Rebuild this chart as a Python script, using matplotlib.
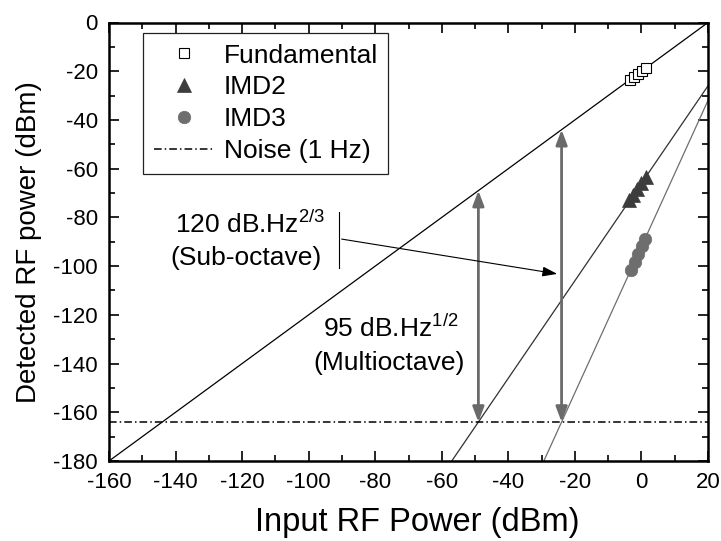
import numpy as np
import matplotlib
matplotlib.use("Agg")
import matplotlib.pyplot as plt
from matplotlib.ticker import MultipleLocator

plt.rcParams["font.family"] = ["Liberation Sans", "DejaVu Sans"]
plt.rcParams["mathtext.fontset"] = "custom"
plt.rcParams["mathtext.rm"] = "Liberation Sans"
plt.rcParams["mathtext.it"] = "Liberation Sans:italic"
plt.rcParams["axes.unicode_minus"] = False

# Measured points (input power dBm -> detected power dBm)
fund_in = [-3.4, -2.2, -1.0, 0.2, 1.4]
fund_out = [-23.6, -22.3, -21.1, -19.9, -18.7]
imd2_in = [-3.6, -2.4, -1.2, 0.0, 1.3]
imd2_out = [-73.0, -70.8, -68.4, -66.0, -63.5]
imd3_in = [-3.1, -2.0, -1.0, 0.1, 1.1]
imd3_out = [-101.5, -98.2, -95.0, -91.8, -89.0]

# Link parameters
noise_floor = -164.0      # dBm in 1 Hz
fund_gain = -20.0         # dB, slope-1 fit offset
sfdr_multi = 95.0         # dB.Hz^1/2 (IMD2 limited)
sfdr_sub = 120.0          # dB.Hz^2/3 (IMD3 limited)

# Fit lines with slopes 1, 2, 3 crossing the noise floor at the SFDR points
x_imd2 = (noise_floor + sfdr_multi) - fund_gain
x_imd3 = (noise_floor + sfdr_sub) - fund_gain
imd2_icpt = noise_floor - 2 * x_imd2
imd3_icpt = noise_floor - 3 * x_imd3

fig = plt.figure(figsize=(7.21, 5.41), dpi=100)
ax = fig.add_axes([109 / 721, 1 - 461 / 541, 599 / 721, 438.5 / 541])

xs = np.array([-160.0, 20.0])
ax.plot(xs, xs + fund_gain, color="black", lw=0.9, zorder=2)
ax.plot(xs, 2 * xs + imd2_icpt, color="#303030", lw=0.9, zorder=2)
ax.plot(xs, 3 * xs + imd3_icpt, color="#6e6e6e", lw=0.9, zorder=2)

h_noise = ax.axhline(noise_floor, color="black", lw=1.1,
                     ls=(0, (5, 2, 1, 2)), zorder=2)

h_fund, = ax.plot(fund_in, fund_out, "s", ms=7, mfc="white", mec="black",
                  mew=0.8, ls="none", zorder=4)
h_imd2, = ax.plot(imd2_in, imd2_out, "^", ms=9.5, mfc="#3c3c3c", mec="#3c3c3c",
                  mew=0.5, ls="none", zorder=4)
h_imd3, = ax.plot(imd3_in, imd3_out, "o", ms=9, mfc="#6e6e6e", mec="#6e6e6e",
                  mew=0.5, ls="none", zorder=4)

# Dynamic range arrows between noise floor and fundamental
arrow_gray = "#6a6a6a"
for xa in (x_imd2, x_imd3):
    ax.annotate("", xy=(xa, xa + fund_gain), xytext=(xa, noise_floor),
                arrowprops=dict(arrowstyle="<|-|>,head_length=0.45,head_width=0.17",
                                color=arrow_gray, lw=2.0, mutation_scale=20,
                                shrinkA=0, shrinkB=0), zorder=3)

# Labels
ax.text(-117.5, -86.4, "120 dB.Hz$^{\\mathrm{2/3}}$", fontsize=19,
        ha="center", va="baseline")
ax.text(-118.9, -99.5, "(Sub-octave)", fontsize=19, ha="center", va="baseline")
ax.text(-75.5, -129.1, "95 dB.Hz$^{\\mathrm{1/2}}$", fontsize=19,
        ha="center", va="baseline")
ax.text(-75.7, -142.7, "(Multioctave)", fontsize=19, ha="center", va="baseline")

ax.plot([-91.0, -91.0], [-77.8, -100.8], color="black", lw=0.8)
ax.annotate("", xy=(-25.3, -103.2), xytext=(-90.1, -88.9),
            arrowprops=dict(arrowstyle="-|>,head_length=0.6,head_width=0.2",
                            color="black", lw=0.8, mutation_scale=15,
                            shrinkA=0, shrinkB=0))

ax.set_xlim(-160, 20)
ax.set_ylim(-180, 0)
ax.xaxis.set_major_locator(MultipleLocator(20))
ax.xaxis.set_minor_locator(MultipleLocator(10))
ax.yaxis.set_major_locator(MultipleLocator(20))
ax.yaxis.set_minor_locator(MultipleLocator(10))
ax.tick_params(which="both", direction="in", top=True, right=True,
               width=1.2, labelsize=16, pad=8)
ax.tick_params(which="major", length=7)
ax.tick_params(which="minor", length=4)
for sp in ax.spines.values():
    sp.set_linewidth(1.8)

ax.set_xlabel("Input RF Power (dBm)", fontsize=23.5, labelpad=10)
ax.xaxis.label.set_x(0.514)
ax.set_ylabel("Detected RF power (dBm)", fontsize=20, labelpad=8)

leg = ax.legend([h_fund, h_imd2, h_imd3, h_noise],
                ["Fundamental", "IMD2", "IMD3", "Noise (1 Hz)"],
                loc="upper left", bbox_to_anchor=(0.057, 0.976),
                borderaxespad=0, fancybox=False, framealpha=1,
                edgecolor="#222222", fontsize=19, handlelength=2.3,
                handletextpad=0.35, labelspacing=0.3, borderpad=0.4)
leg.get_frame().set_linewidth(0.9)

fig.savefig("out.png", dpi=100)
